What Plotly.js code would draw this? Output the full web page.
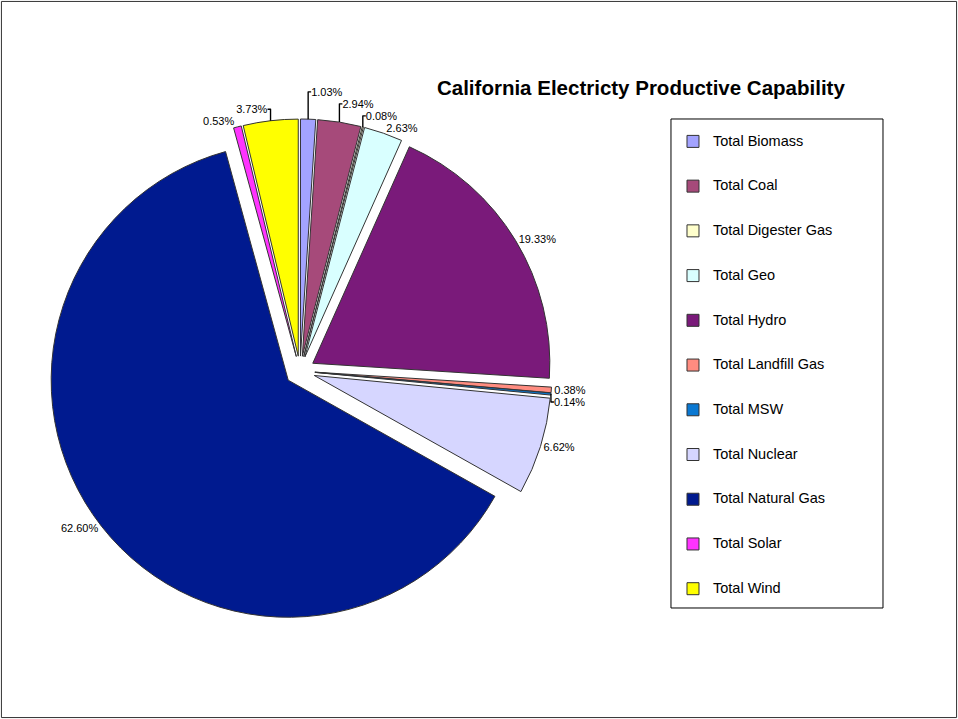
<!DOCTYPE html>
<html>
<head>
<meta charset="utf-8">
<script src="https://cdn.plot.ly/plotly-3.0.1.min.js"></script>
<style>html,body{margin:0;padding:0;background:#fff;}#chart{width:958px;height:719px;}</style>
</head>
<body>
<div id="chart"></div>
<script>
// Data (percent of total capability)
const categories = ["Total Biomass", "Total Coal", "Total Digester Gas", "Total Geo", "Total Hydro",
  "Total Landfill Gas", "Total MSW", "Total Nuclear", "Total Natural Gas", "Total Solar", "Total Wind"];
const shares = [1.03, 2.94, 0.08, 2.63, 19.33, 0.38, 0.14, 6.62, 62.60, 0.53, 3.73];
const sliceColors = ["#A3A3FF", "#A64A7A", "#FFFFCC", "#D9FFFF", "#7A1A7A", "#FF8C80",
  "#0A78D2", "#D6D6FF", "#001A8F", "#FF33FF", "#FFFF00"];

const FONT = "Arial, 'Liberation Sans', sans-serif";

// legend entries padded to spread the legend like the original
const legendLabels = categories.map(c => '<br><span style="font-size:14.5px">' + c + '</span><br>');

const trace = {
  type: 'pie',
  labels: legendLabels,
  values: shares,
  sort: false,
  direction: 'clockwise',
  rotation: 0,
  pull: 0.063,
  marker: { colors: sliceColors, line: { color: '#333333', width: 1 } },
  texttemplate: '%{value:.2f}%',
  textposition: 'outside',
  textfont: { family: FONT, size: 11, color: '#000000' },
  hoverinfo: 'label+value',
  domain: { x: [0.0501, 0.5762], y: [0.1335, 0.8345] },
  showlegend: true
};

const layout = {
  width: 958,
  height: 719,
  margin: { l: 0, r: 0, t: 0, b: 0 },
  paper_bgcolor: '#ffffff',
  plot_bgcolor: '#ffffff',
  font: { family: FONT, color: '#000000' },
  title: {
    text: 'California Electricty Productive Capability',
    font: { family: FONT, size: 20.5, weight: 'bold', color: '#000000' },
    x: 0.669, xref: 'paper', xanchor: 'center',
    y: 0.8776, yref: 'paper', yanchor: 'middle'
  },
  legend: {
    x: 0.7025, xanchor: 'left',
    y: 0.8414, yanchor: 'top',
    bgcolor: 'rgba(0,0,0,0)',
    borderwidth: 0,
    font: { family: FONT, size: 10.7, color: '#000000' }
  },
  shapes: [
    { type: 'rect', xref: 'paper', yref: 'paper', x0: 0.0015, x1: 0.9985, y0: 0.002, y1: 0.998,
      line: { color: '#333333', width: 1 }, layer: 'below' },
    { type: 'rect', xref: 'paper', yref: 'paper', x0: 0.7004, x1: 0.9217, y0: 0.1544, y1: 0.8345,
      line: { color: '#000000', width: 1 }, layer: 'below' }
  ]
};

Plotly.newPlot('chart', [trace], layout, { displayModeBar: false, staticPlot: true });
</script>
</body>
</html>
